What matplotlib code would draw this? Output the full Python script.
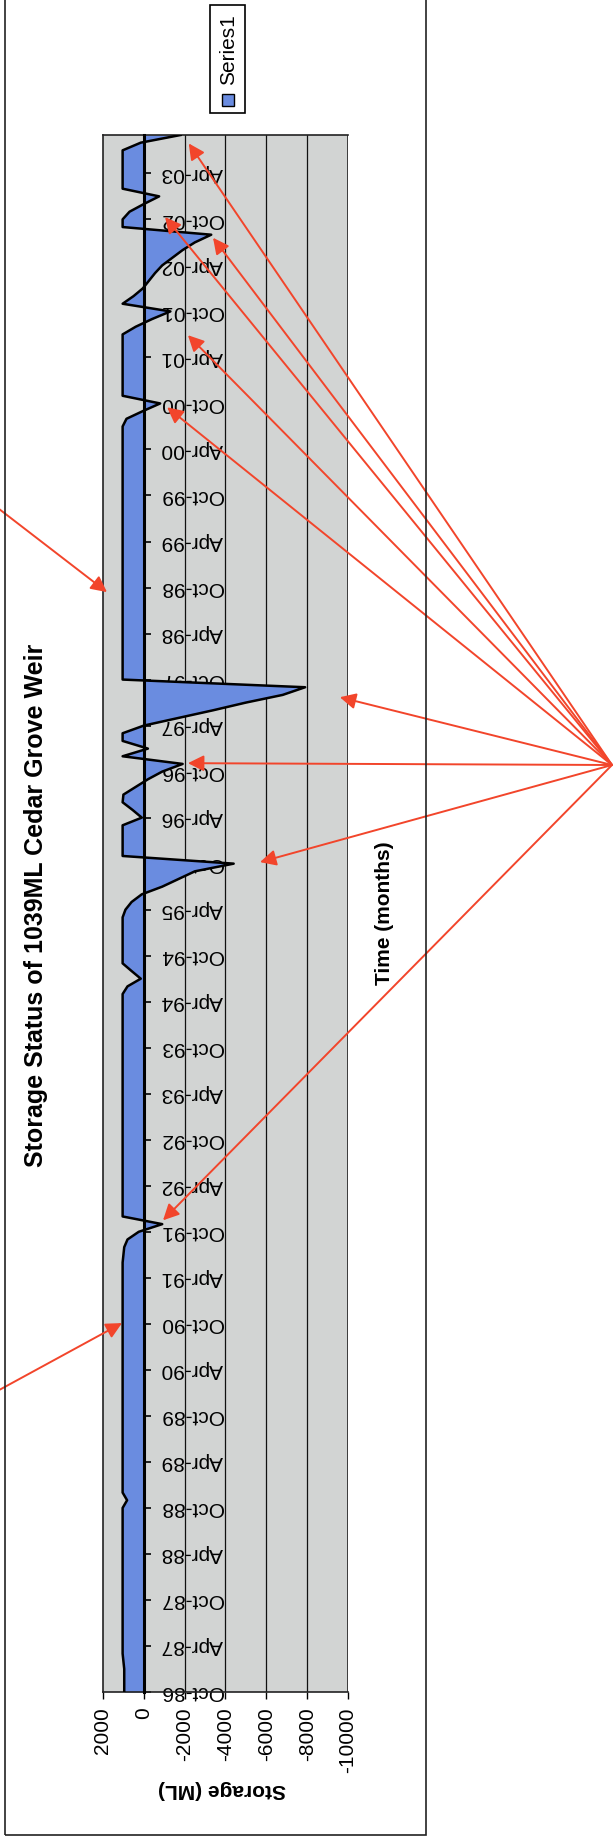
import matplotlib
matplotlib.use("Agg")
import matplotlib.pyplot as plt
from matplotlib.patches import Rectangle

plt.rcParams['font.family'] = ['Liberation Sans', 'DejaVu Sans']

# monthly storage (ML), Oct-86 .. Sep-03, one row per water year (Oct..Sep)
storage = [
    960, 960, 960, 960, 1000, 1039, 1039, 1039, 1039, 1039, 1039, 1039,
    1039, 1039, 1039, 1039, 1039, 1039, 1039, 1039, 1039, 1039, 1039, 1039,
    1039, 820, 1039, 1039, 1039, 1039, 1039, 1039, 1039, 1039, 1039, 1039,
    1039, 1039, 1039, 1039, 1039, 1039, 1039, 1039, 1039, 1039, 1039, 1039,
    1039, 1039, 1039, 1039, 1039, 1039, 1039, 1039, 1039, 1000, 960, 800,
    250, -900, 1039, 1039, 1039, 1039, 1039, 1039, 1039, 1039, 1039, 1039,
    1039, 1039, 1039, 1039, 1039, 1039, 1039, 1039, 1039, 1039, 1039, 1039,
    1039, 1039, 1039, 1039, 1039, 1039, 1039, 1039, 800, 150, 600, 1039,
    1039, 1039, 1039, 1039, 1039, 1039, 900, 600, 100, -900, -1700, -2500,
    -4400, 1039, 1039, 1039, 1039, 1039, 100, 550, 1039, 1000, 400, -200,
    -900, -1900, 1039, -200, 1039, 1039, 0, -1700, -3400, -5000, -6800, -7900,
    1039, 1039, 1039, 1039, 1039, 1039, 1039, 1039, 1039, 1039, 1039, 1039,
    1039, 1039, 1039, 1039, 1039, 1039, 1039, 1039, 1039, 1039, 1039, 1039,
    1039, 1039, 1039, 1039, 1039, 1039, 1039, 1039, 1039, 1039, 850, 50,
    -800, 1039, 1039, 1039, 1039, 1039, 1039, 1039, 1039, 1039, 400, -400,
    -1300, 1039, 500, 50, -250, -550, -900, -1400, -1900, -2500, -3300, 1039,
    1039, 700, 0, -750, 1039, 1039, 1039, 1039, 1039, 1039, 150, -1800,
]
months = list(range(len(storage)))

time_labels = ['Oct-86', 'Apr-87', 'Oct-87', 'Apr-88', 'Oct-88', 'Apr-89',
               'Oct-89', 'Apr-90', 'Oct-90', 'Apr-91', 'Oct-91', 'Apr-92',
               'Oct-92', 'Apr-93', 'Oct-93', 'Apr-94', 'Oct-94', 'Apr-95',
               'Oct-95', 'Apr-96', 'Oct-96', 'Apr-97', 'Oct-97', 'Apr-98',
               'Oct-98', 'Apr-99', 'Oct-99', 'Apr-00', 'Oct-00', 'Apr-01',
               'Oct-01', 'Apr-02', 'Oct-02', 'Apr-03']
storage_ticks = [2000, 0, -2000, -4000, -6000, -8000, -10000]

# hand drawn arrow tips (storage, month) - pointing at the deficits
hub_tips = [(-2200, 201.9), (-1040, 192.3), (-3390, 189.6), (-2160, 176.9),
            (-1140, 167.5), (-9600, 129.7), (-2160, 121.1), (-5690, 108.2),
            (-940, 61.5)]
left_arrows = [((-10, 502), (1804, 143.4)), ((-10, 1395), (1069, 48.1))]

W, H = 615, 1841
fig = plt.figure(figsize=(W / 100, H / 100), dpi=100)
fig.patch.set_facecolor('white')

def fx(x):
    return x / W

def fy(y):
    return 1 - y / H

blue = '#6a8ce0'
red = '#f2452b'

# chart frame (top is cut off in the scan)
fig.add_artist(Rectangle((fx(5), fy(1835)), fx(426) - fx(5), fy(-30) - fy(1835),
                         transform=fig.transFigure, fill=False, ec='#222222', lw=1.2))

ax = fig.add_axes([fx(103), fy(1692), fx(348) - fx(103), fy(135) - fy(1692)])
ax.set_facecolor('#d2d4d3')
for g in storage_ticks[2:-1]:
    ax.axvline(g, color='#111111', lw=0.9, zorder=1)
ax.fill_betweenx(months, 0, storage, color=blue, lw=0, zorder=2)
ax.plot(storage, months, color='black', lw=1.8, zorder=3)
ax.set_xlim(2000, -10000)
ax.set_ylim(0, len(storage) - 1)

ax.set_xticks(storage_ticks)
ax.set_xticklabels([str(v) for v in storage_ticks], rotation=90, fontsize=15)
ax.tick_params(axis='x', direction='out', length=5, width=1, pad=6)

# category axis sits at storage = 0
ax.spines['right'].set_position(('data', 0))
ax.spines['right'].set_linewidth(2.2)
ax.spines['right'].set_zorder(4)
ax.yaxis.tick_right()
ax.set_yticks(list(range(0, 6 * len(time_labels), 6)))
ax.set_yticklabels(time_labels, rotation=180, fontsize=15, va='center')
ax.tick_params(axis='y', direction='out', length=5, width=1.2, pad=7)
ax.axvline(-10000, color='#222222', lw=1.2, zorder=4)
for s in ['left', 'top', 'bottom']:
    ax.spines[s].set_color('#222222')
    ax.spines[s].set_linewidth(1.2)

fig.text(fx(36), fy(905), 'Storage Status of 1039ML Cedar Grove Weir', rotation=90,
         ha='center', va='center', fontsize=18, fontweight='bold')
fig.text(fx(385), fy(913), 'Time (months)', rotation=90, ha='center', va='center',
         fontsize=15, fontweight='bold')
fig.text(fx(222), fy(1790), 'Storage (ML)', rotation=180, ha='center', va='center',
         fontsize=15, fontweight='bold')

# legend
fig.add_artist(Rectangle((fx(210), fy(113)), fx(245) - fx(210), fy(5) - fy(113),
                         transform=fig.transFigure, fc='white', ec='black', lw=1.2))
fig.add_artist(Rectangle((fx(222), fy(106)), fx(234) - fx(222), fy(94) - fy(106),
                         transform=fig.transFigure, fc=blue, ec='black', lw=1))
fig.text(fx(229), fy(50), 'Series1', rotation=90, ha='center', va='center', fontsize=15)

# red arrows drawn over the chart
aprops = dict(arrowstyle='-|>', color=red, lw=1.4, mutation_scale=24, shrinkA=0, shrinkB=0)
for v, m in hub_tips:
    ax.annotate('', xy=(v, m), xycoords='data', xytext=(fx(612), fy(765)),
                textcoords='figure fraction', arrowprops=aprops,
                annotation_clip=False, zorder=10)
for (x0, y0), (v, m) in left_arrows:
    ax.annotate('', xy=(v, m), xycoords='data', xytext=(fx(x0), fy(y0)),
                textcoords='figure fraction', arrowprops=aprops,
                annotation_clip=False, zorder=10)

fig.savefig('out.png', dpi=100)
